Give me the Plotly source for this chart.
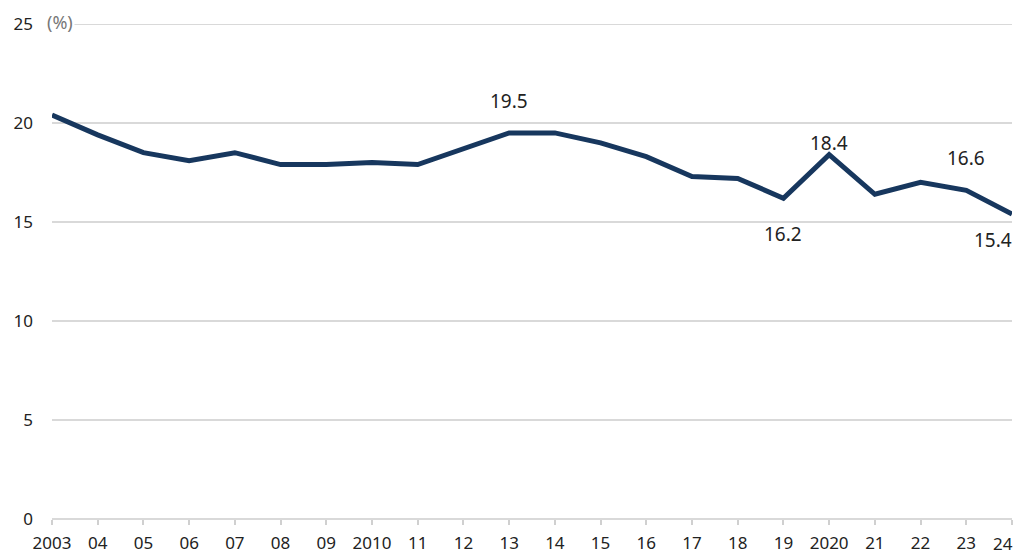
import plotly.graph_objects as go

years = list(range(2003, 2025))
values = [20.4, 19.4, 18.5, 18.1, 18.5, 17.9, 17.9, 18.0, 17.9, 18.7, 19.5,
          19.5, 19.0, 18.3, 17.3, 17.2, 16.2, 18.4, 16.4, 17.0, 16.6, 15.4]
tick_text = ["2003", "04", "05", "06", "07", "08", "09", "2010", "11", "12", "13",
             "14", "15", "16", "17", "18", "19", "2020", "21", "22", "23", "24"]
y_ticks = [0, 5, 10, 15, 20, 25]

# labelled points: (year, text, yshift, xshift)
labels = [(2013, "19.5", 32, 0), (2019, "16.2", -36, 0), (2020, "18.4", 12, 0),
          (2023, "16.6", 32, 0), (2024, "15.4", -26, -19)]

FONT = "Noto Sans"
fig = go.Figure()
fig.add_trace(go.Scatter(x=years, y=values, mode="lines",
                         line=dict(color="#17375E", width=5), hoverinfo="skip"))

for yr, txt, ys, xs in labels:
    fig.add_annotation(x=yr, y=values[years.index(yr)], text=txt, showarrow=False,
                       yshift=ys, xshift=xs, font=dict(family=FONT, size=19, color="#222222"))

# top gridline (plotly skips the gridline at the range edge)
fig.add_shape(type="line", xref="paper", x0=0, x1=1, yref="y", y0=y_ticks[-1], y1=y_ticks[-1],
              line=dict(color="#d9d9d9", width=2), layer="below")

fig.add_annotation(x=0, xref="paper", y=25, yref="y", text="(%)", showarrow=False,
                   xanchor="left", xshift=-7, yshift=2, bgcolor="white",
                   font=dict(family=FONT, size=18, color="#777777"))

# last x label, right-aligned so it stays inside the page
shown_text = tick_text[:-1] + [""]
fig.add_annotation(x=years[-1], xref="x", y=0, yref="paper", text=tick_text[-1],
                   showarrow=False, xanchor="right", yanchor="top", yshift=-11, xshift=3,
                   font=dict(family=FONT, size=17, color="#222222"))

fig.update_layout(
    width=1016, height=548,
    margin=dict(l=44, r=12, t=16, b=37, autoexpand=False),
    paper_bgcolor="white", plot_bgcolor="white",
    showlegend=False,
    font=dict(family=FONT, size=17, color="#222222"),
    xaxis=dict(range=[2003, 2024], tickvals=years, ticktext=shown_text,
               showgrid=False, zeroline=False, showline=False, automargin=False,
               ticks="outside", ticklen=5, tickcolor="#d0d0d0", tickwidth=2,
               ticklabelstandoff=4,
               tickfont=dict(family=FONT, size=17, color="#222222")),
    yaxis=dict(range=[0, 25], tickvals=y_ticks, showgrid=True, automargin=False,
               gridcolor="#d9d9d9", gridwidth=2, zeroline=True,
               zerolinecolor="#d9d9d9", zerolinewidth=2, showline=False,
               ticks="", ticklabelstandoff=18,
               tickfont=dict(family=FONT, size=17, color="#222222")),
)

fig.write_html("out.html")
